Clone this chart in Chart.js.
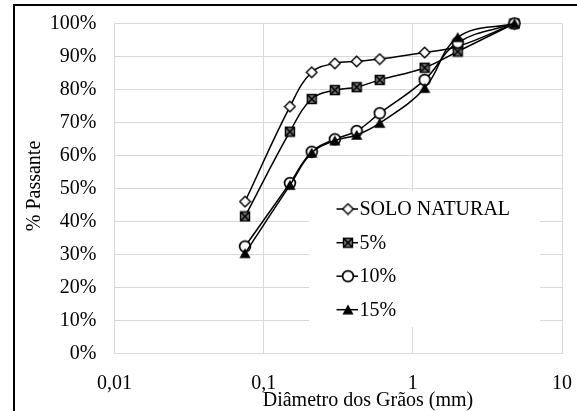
<!DOCTYPE html>
<html><head><meta charset="utf-8">
<script src="https://cdn.jsdelivr.net/npm/chart.js@4"></script>
<style>
html,body{margin:0;padding:0;background:#fff;overflow:hidden}
#wrap{position:relative;width:577px;height:411px}
#frame{position:absolute;left:13px;top:4px;width:620px;height:520px;border:2px solid #000;box-sizing:border-box;pointer-events:none}
#c{position:absolute;left:0;top:0}
#probe{position:absolute;left:0;top:0;font-family:'Liberation Serif';font-size:20px;color:#fff}
</style></head>
<body>
<div id="probe">Probe</div>
<div id="wrap"><canvas id="c" width="577" height="411"></canvas><div id="frame"></div></div>
<script>
const diameters = [0.075, 0.15, 0.21, 0.3, 0.42, 0.6, 1.2, 2.0, 4.8];
const soloNatural = [46.0, 74.8, 85.2, 87.9, 88.5, 89.2, 91.2, 93.0, 100];
const cal5 = [41.5, 67.2, 77.1, 79.8, 80.7, 82.9, 86.6, 91.5, 100];
const cal10 = [32.4, 51.6, 61.1, 64.9, 67.4, 72.8, 82.9, 94.2, 100];
const cal15 = [30.3, 51.0, 60.8, 64.5, 66.2, 69.8, 80.4, 95.8, 100];
const seriesNames = ['SOLO NATURAL', '5%', '10%', '15%'];
const xTickValues = [0.01, 0.1, 1, 10];
const xTickLabels = ['0,01', '0,1', '1', '10'];
const yTickValues = [0, 10, 20, 30, 40, 50, 60, 70, 80, 90, 100];
const xTitle = 'Diâmetro dos Grãos (mm)';
const yTitle = '% Passante';

const FONT = "'Liberation Serif'";
Chart.defaults.font.family = FONT;

function mk(w, h, fn) { const c = document.createElement('canvas'); c.width = w; c.height = h; fn(c.getContext('2d')); return c; }
const diamond = mk(13, 13, g => { g.beginPath(); g.moveTo(6.5, 1.2); g.lineTo(11.8, 6.5); g.lineTo(6.5, 11.8); g.lineTo(1.2, 6.5); g.closePath(); g.fillStyle = '#fff'; g.fill(); g.lineWidth = 1.4; g.strokeStyle = '#000'; g.stroke(); });
const sqx = mk(12, 12, g => { g.fillStyle = '#777'; g.fillRect(1.5, 1.5, 9, 9); g.lineWidth = 1.4; g.strokeStyle = '#000'; g.strokeRect(1.5, 1.5, 9, 9); g.beginPath(); g.moveTo(1.5, 1.5); g.lineTo(10.5, 10.5); g.moveTo(10.5, 1.5); g.lineTo(1.5, 10.5); g.lineWidth = 1.6; g.stroke(); });
const circ = mk(14, 14, g => { g.beginPath(); g.arc(7, 7, 5.4, 0, Math.PI * 2); g.fillStyle = '#fff'; g.fill(); g.lineWidth = 1.7; g.strokeStyle = '#000'; g.stroke(); });
const tri = mk(12, 12, g => { g.beginPath(); g.moveTo(6, 0.8); g.lineTo(11.6, 10.8); g.lineTo(0.4, 10.8); g.closePath(); g.fillStyle = '#000'; g.fill(); });
const markers = [diamond, sqx, circ, tri];

function ds(label, vals, i) {
  return {
    label, data: diameters.map((x, k) => ({ x, y: vals[k] })),
    borderColor: '#000', borderWidth: 1.5, tension: 0.4, fill: false,
    pointStyle: markers[i], pointRadius: 6, pointHoverRadius: 6,
    order: 4 - i, clip: false
  };
}

const overlay = {
  id: 'overlay',
  afterDatasetsDraw(chart) {
    const g = chart.ctx;
    g.save();
    g.fillStyle = '#fff';
    g.fillRect(309, 191, 231, 136);
    const rows = [209, 242.7, 276.2, 309.7];
    g.font = '20px ' + FONT;
    g.textBaseline = 'middle';
    g.textAlign = 'left';
    rows.forEach((y, i) => {
      g.beginPath(); g.moveTo(336.5, y); g.lineTo(358, y); g.strokeStyle = '#000'; g.lineWidth = 1.5; g.stroke();
      const m = markers[i];
      g.drawImage(m, 348 - m.width / 2, y - m.height / 2);
      g.fillStyle = '#000';
      g.fillText(seriesNames[i], 359.5, y + 1);
    });
    g.fillStyle = '#000';
    g.textAlign = 'center';
    g.fillText(xTitle, 368, 401);
    g.translate(35, 186);
    g.rotate(-Math.PI / 2);
    g.fillText(yTitle, 0, 0);
    g.restore();
  }
};

let chart;
function draw() {
  if (chart) { chart.update(); return; }
  chart = new Chart(document.getElementById('c'), {
    type: 'line',
    data: { datasets: [ds(seriesNames[0], soloNatural, 0), ds(seriesNames[1], cal5, 1), ds(seriesNames[2], cal10, 2), ds(seriesNames[3], cal15, 3)] },
    options: {
      responsive: false, animation: false, devicePixelRatio: 1,
      layout: { padding: { left: 0, top: 23.5, right: 15, bottom: 0 } },
      plugins: { legend: { display: false }, tooltip: { enabled: false } },
      scales: {
        x: {
          type: 'logarithmic', min: 0.01, max: 10,
          afterBuildTicks: s => { s.ticks = xTickValues.map(v => ({ value: v })); },
          afterFit: s => { s.height = 57.7; s.paddingLeft = 0; s.paddingRight = 0; s.paddingTop = 0; s.paddingBottom = 0; },
          ticks: { autoSkip: false, maxRotation: 0, minRotation: 0, padding: 18, color: '#000', font: { size: 20, family: FONT },
            callback: (v) => { const i = xTickValues.findIndex(t => Math.abs(t - v) < 1e-9); return i >= 0 ? xTickLabels[i] : ''; } },
          grid: { color: '#d9d9d9', lineWidth: 1, drawTicks: false },
          border: { display: true, color: '#d9d9d9' }
        },
        y: {
          min: 0, max: 100,
          afterBuildTicks: s => { s.ticks = yTickValues.map(v => ({ value: v })); },
          afterFit: s => { s.width = 114.5; s.paddingLeft = 0; s.paddingRight = 0; s.paddingTop = 0; s.paddingBottom = 0; },
          ticks: { padding: 18, color: '#000', font: { size: 20, family: FONT }, callback: v => v + '%' },
          grid: { color: '#d9d9d9', lineWidth: 1, drawTicks: false },
          border: { display: true, color: '#d9d9d9' }
        }
      }
    },
    plugins: [overlay]
  });
}
draw();
if (document.fonts) { document.fonts.ready.then(draw); document.fonts.load("20px 'Liberation Serif'").then(draw); }
</script>
</body></html>
